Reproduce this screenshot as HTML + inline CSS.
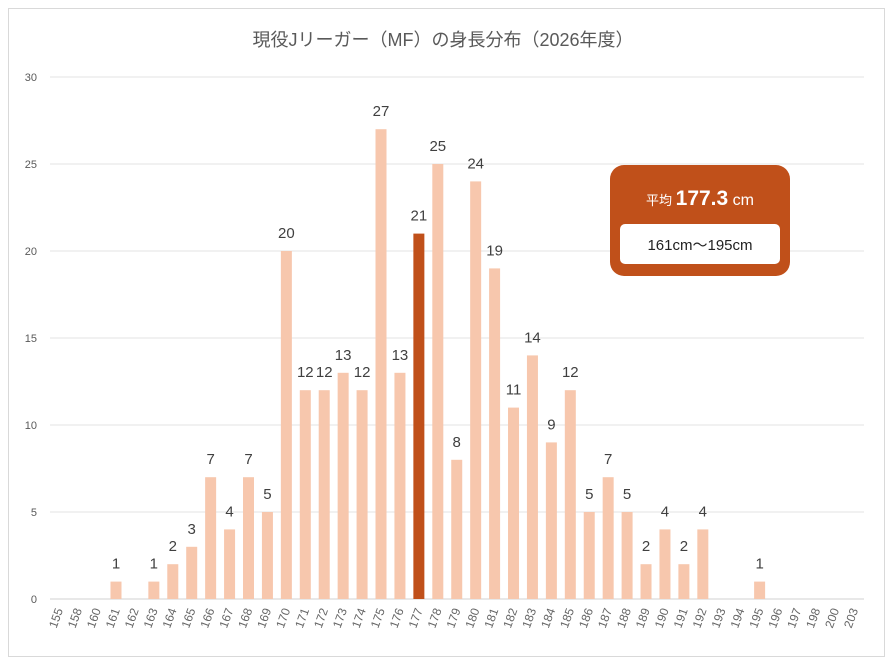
<!DOCTYPE html><html><head><meta charset="utf-8"><style>
body{margin:0;background:#fff;font-family:"Liberation Sans","Noto Sans CJK JP",sans-serif}
</style></head><body>
<svg id="s" width="887" height="664" xmlns="http://www.w3.org/2000/svg" style="display:block">
<rect x="0" y="0" width="887" height="664" fill="#fff"/>
<rect x="8.5" y="8.5" width="876" height="648" fill="none" stroke="#d9d9d9"/>
<text x="443" y="46" text-anchor="middle" font-size="18" fill="#595959" font-family="Liberation Sans,Noto Sans CJK JP,sans-serif">現役Jリーガー（MF）の身長分布（2026年度）</text>
<g id="g"></g>
<rect x="610" y="165" width="180" height="111" rx="14" fill="#C0501A"/>
<text x="700" y="205" text-anchor="middle" fill="#fff" font-family="Liberation Sans,Noto Sans CJK JP,sans-serif"><tspan font-size="13">平均 </tspan><tspan font-size="21" font-weight="bold">177.3</tspan><tspan font-size="16"> cm</tspan></text>
<rect x="620" y="224" width="160" height="40" rx="5" fill="#fff"/>
<text x="700" y="250" text-anchor="middle" font-size="15" fill="#222" font-family="Liberation Sans,Noto Sans CJK JP,sans-serif">161cm～195cm</text>
</svg>
<script>
var cats=[155,158,160];for(var i=161;i<=198;i++)cats.push(i);cats.push(200,203);
var v={161:1,163:1,164:2,165:3,166:7,167:4,168:7,169:5,170:20,171:12,172:12,173:13,174:12,175:27,176:13,177:21,178:25,179:8,180:24,181:19,182:11,183:14,184:9,185:12,186:5,187:7,188:5,189:2,190:4,191:2,192:4,195:1};
var h='',y0=599,u=17.4;
for(var t=0;t<=30;t+=5){var y=y0-t*u;h+='<line x1="50" x2="864" y1="'+y+'" y2="'+y+'" stroke="'+(t?'#e3e3e3':'#d0d0d0')+'"/>';h+='<text x="37" y="'+(y+4)+'" text-anchor="end" font-size="11" fill="#595959">'+t+'</text>';}
cats.forEach(function(c,i){var x=59.2+i*18.93;var val=v[c];
if(val){var bh=val*u;h+='<rect x="'+(x-5.5)+'" y="'+(y0-bh)+'" width="11" height="'+bh+'" fill="'+(c==177?'#C0501A':'#F7C7AD')+'"/>';
h+='<text x="'+x+'" y="'+(y0-bh-13)+'" text-anchor="middle" font-size="15" fill="#404040">'+val+'</text>';}
h+='<text transform="translate('+(x+4)+',610) rotate(-70)" text-anchor="end" font-size="12" fill="#666">'+c+'</text>';});
document.getElementById('g').innerHTML=h;
</script>
</body></html>
